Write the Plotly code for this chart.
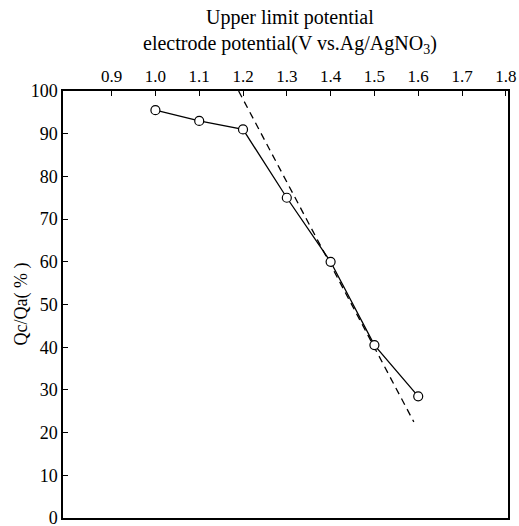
import plotly.graph_objects as go

potential = [1.0, 1.1, 1.2, 1.3, 1.4, 1.5, 1.6]
ratio = [95.5, 93.0, 91.0, 75.0, 60.0, 40.5, 28.5]
dash_x = [1.19, 1.59]
dash_y = [100.0, 22.5]
x_ticks = [0.9, 1.0, 1.1, 1.2, 1.3, 1.4, 1.5, 1.6, 1.7, 1.8]
y_ticks = [0, 10, 20, 30, 40, 50, 60, 70, 80, 90, 100]

FONT = "Liberation Serif"

fig = go.Figure()
fig.add_trace(go.Scatter(x=dash_x, y=dash_y, mode="lines",
                         line=dict(color="black", width=1.3, dash="7px,5px"),
                         showlegend=False, hoverinfo="skip"))
fig.add_trace(go.Scatter(x=potential, y=ratio, mode="lines+markers",
                         line=dict(color="black", width=1.3),
                         marker=dict(symbol="circle", size=9, color="white",
                                     line=dict(color="black", width=1.2)),
                         showlegend=False))

fig.update_layout(
    width=519, height=526,
    margin=dict(l=63, r=11, t=91, b=8, autoexpand=False),
    paper_bgcolor="white", plot_bgcolor="white",
    font=dict(family=FONT, size=17, color="black"),
    xaxis=dict(side="top", range=[0.789, 1.805], tickvals=x_ticks,
               ticktext=[f"{v:.1f}" for v in x_ticks],
               ticks="inside", ticklen=5, tickcolor="black", tickwidth=1,
               showline=True, linecolor="black", linewidth=1.5, mirror=True,
               showgrid=False, zeroline=False, automargin=False,
               ticklabeloverflow="allow",
               tickfont=dict(family=FONT, size=17)),
    yaxis=dict(range=[0, 100], tickvals=y_ticks,
               ticktext=[str(v) for v in y_ticks],
               ticks="inside", ticklen=5, tickcolor="black", tickwidth=1,
               showline=True, linecolor="black", linewidth=1.5, mirror=True,
               showgrid=False, zeroline=False, automargin=False,
               ticklabeloverflow="allow",
               tickfont=dict(family=FONT, size=18)),
    annotations=[
        dict(text="Upper limit potential", xref="paper", yref="paper",
             x=0.51, y=1.0, yshift=74, xanchor="center", yanchor="middle",
             showarrow=False, font=dict(family=FONT, size=20)),
        dict(text="electrode potential(V vs.Ag/AgNO<sub>3</sub>)", xref="paper", yref="paper",
             x=0.51, y=1.0, yshift=47, xanchor="center", yanchor="middle",
             showarrow=False, font=dict(family=FONT, size=20)),
        dict(text="Qc/Qa( % )", xref="paper", yref="paper",
             x=0.0, xshift=-42, y=0.5, xanchor="center", yanchor="middle",
             textangle=-90, showarrow=False, font=dict(family=FONT, size=18)),
    ],
)

fig.write_html("out.html")
